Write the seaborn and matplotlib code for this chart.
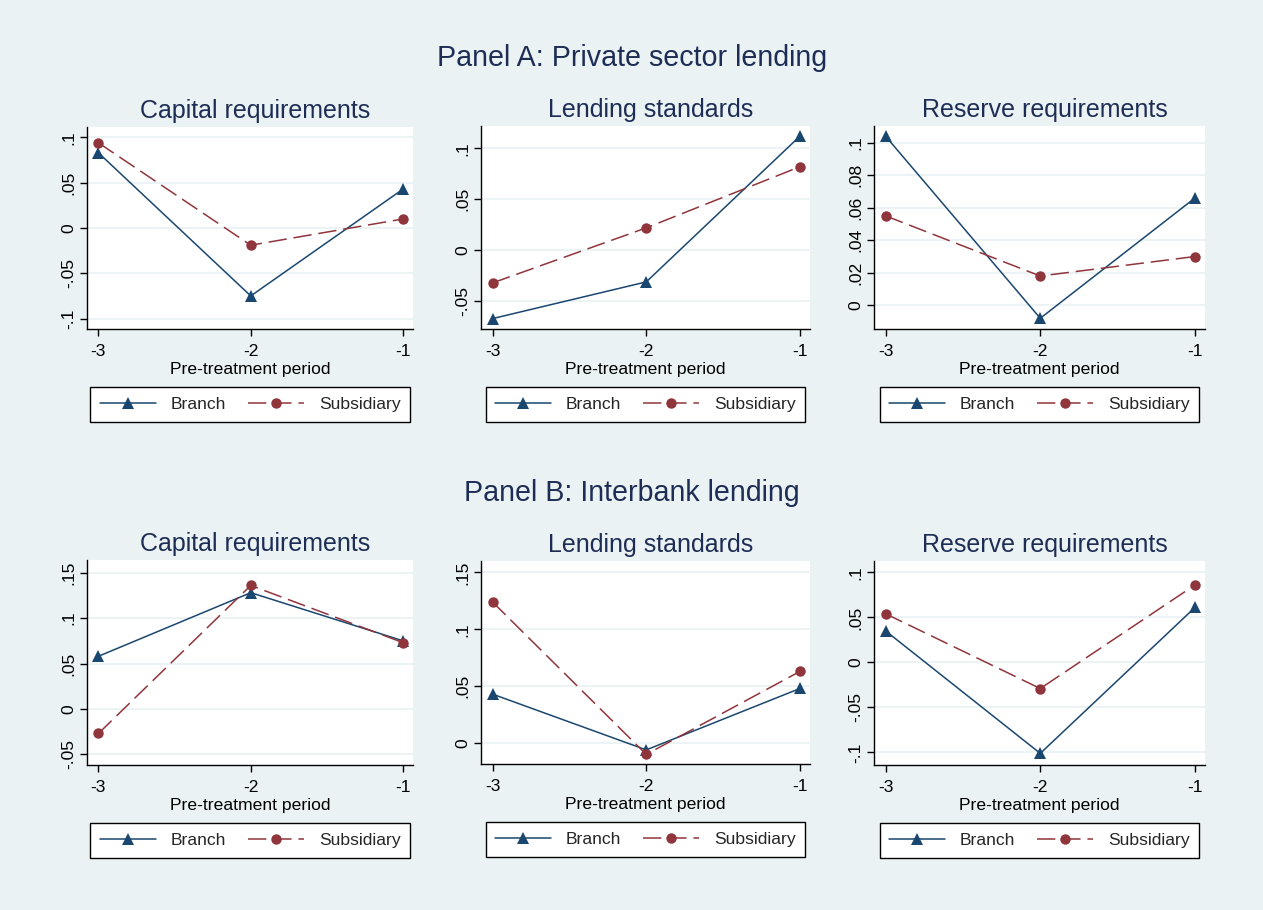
import matplotlib
matplotlib.use("Agg")
import matplotlib.pyplot as plt
import seaborn as sns
import pandas as pd

# Pre-treatment periods on the x axis
periods = [-3, -2, -1]
period_labels = ["-3", "-2", "-1"]
groups = ["Branch", "Subsidiary"]

# Panel A: private sector lending
a_capital_branch = [0.083, -0.075, 0.043]
a_capital_subsidiary = [0.094, -0.019, 0.010]
a_lending_branch = [-0.067, -0.031, 0.112]
a_lending_subsidiary = [-0.032, 0.022, 0.082]
a_reserve_branch = [0.104, -0.008, 0.066]
a_reserve_subsidiary = [0.055, 0.018, 0.030]

# Panel B: interbank lending
b_capital_branch = [0.058, 0.128, 0.075]
b_capital_subsidiary = [-0.027, 0.136, 0.073]
b_lending_branch = [0.043, -0.006, 0.048]
b_lending_subsidiary = [0.124, -0.010, 0.063]
b_reserve_branch = [0.035, -0.101, 0.061]
b_reserve_subsidiary = [0.054, -0.029, 0.086]

subplot_titles = ["Capital requirements", "Lending standards", "Reserve requirements"]
panel_titles = ["Panel A: Private sector lending", "Panel B: Interbank lending"]
x_title = "Pre-treatment period"

# y-axis ticks and labels for each subplot
a_capital_ticks = [-0.1, -0.05, 0, 0.05, 0.1]
a_capital_ticklabels = ["-.1", "-.05", "0", ".05", ".1"]
a_lending_ticks = [-0.05, 0, 0.05, 0.1]
a_lending_ticklabels = ["-.05", "0", ".05", ".1"]
a_reserve_ticks = [0, 0.02, 0.04, 0.06, 0.08, 0.1]
a_reserve_ticklabels = ["0", ".02", ".04", ".06", ".08", ".1"]
b_capital_ticks = [-0.05, 0, 0.05, 0.1, 0.15]
b_capital_ticklabels = ["-.05", "0", ".05", ".1", ".15"]
b_lending_ticks = [0, 0.05, 0.1, 0.15]
b_lending_ticklabels = ["0", ".05", ".1", ".15"]
b_reserve_ticks = [-0.1, -0.05, 0, 0.05, 0.1]
b_reserve_ticklabels = ["-.1", "-.05", "0", ".05", ".1"]

BG = "#EAF2F3"
NAVY = "#1A476F"
MAROON = "#90353B"
TITLE_COLOR = "#1E2D55"

sns.set_theme(style="white")
plt.rcParams["font.family"] = ["Liberation Sans", "DejaVu Sans"]

W, H = 1263, 910
fig = plt.figure(figsize=(W / 100, H / 100), dpi=100, facecolor=BG)


def frac_box(left, top, right, bottom):
    return [left / W, 1 - bottom / H, (right - left) / W, (bottom - top) / H]


panels = [
    # (branch, subsidiary, ticks, ticklabels, ylim, box)
    (a_capital_branch, a_capital_subsidiary, a_capital_ticks, a_capital_ticklabels,
     (-0.1115, 0.1115), (87, 127, 413, 329)),
    (a_lending_branch, a_lending_subsidiary, a_lending_ticks, a_lending_ticklabels,
     (-0.0772, 0.1219), (481, 126, 810, 329)),
    (a_reserve_branch, a_reserve_subsidiary, a_reserve_ticks, a_reserve_ticklabels,
     (-0.0146, 0.1103), (874, 126, 1205, 329)),
    (b_capital_branch, b_capital_subsidiary, b_capital_ticks, b_capital_ticklabels,
     (-0.0617, 0.164), (87, 560, 413, 765)),
    (b_lending_branch, b_lending_subsidiary, b_lending_ticks, b_lending_ticklabels,
     (-0.0184, 0.160), (481, 561, 810, 764)),
    (b_reserve_branch, b_reserve_subsidiary, b_reserve_ticks, b_reserve_ticklabels,
     (-0.1139, 0.1126), (874, 561, 1205, 765)),
]

for i, (br, sub, ticks, tlabels, ylim, box) in enumerate(panels):
    ax = fig.add_axes(frac_box(*box))
    ax.set_facecolor("white")
    df = pd.DataFrame({
        "period": periods * 2,
        "value": br + sub,
        "group": [groups[0]] * 3 + [groups[1]] * 3,
    })
    for y in ticks:
        ax.axhline(y, color=BG, lw=1.3, zorder=0)
    sns.lineplot(
        data=df, x="period", y="value", hue="group", style="group",
        palette=[NAVY, MAROON], markers={"Branch": "^", "Subsidiary": "o"},
        dashes={"Branch": "", "Subsidiary": (12, 4.5)},
        markersize=8, markeredgewidth=0, linewidth=1.1, ax=ax, legend=True,
    )
    for line in ax.get_lines():
        if line.get_marker() == "o":
            line.set_markersize(7.5)
    ax.set_xlim(-3.075, -0.935)
    ax.set_ylim(*ylim)
    ax.set_xticks(periods)
    ax.set_xticklabels(period_labels)
    ax.set_yticks(ticks)
    ax.set_yticklabels(tlabels, rotation=90, va="center")
    ax.tick_params(axis="both", which="major", length=5, width=1, color="black",
                   labelsize=12.6, labelcolor="black", direction="out",
                   bottom=True, left=True)
    ax.tick_params(axis="x", pad=5.5)
    ax.tick_params(axis="y", pad=3)
    for side in ["top", "right"]:
        ax.spines[side].set_visible(False)
    for side in ["left", "bottom"]:
        ax.spines[side].set_color("black")
        ax.spines[side].set_linewidth(1.0)
    ax.set_xlabel(x_title, fontsize=12.6, color="black", labelpad=2.5)
    ax.set_ylabel("")
    left, top, right, bottom = box
    title = ax.set_title(subplot_titles[i % 3], fontsize=18, color=TITLE_COLOR, pad=6.5)
    title.set_x(0.5 + 5 / (right - left))

    handles, labels = ax.get_legend_handles_labels()
    ax.get_legend().remove()
    cx = (left + right) / 2 / W
    cy = 1 - (bottom + 75.5) / H
    leg = ax.legend(handles, labels, loc="center", bbox_to_anchor=(cx, cy),
                    bbox_transform=fig.transFigure, ncol=2, frameon=True,
                    fancybox=False, shadow=False, fontsize=12.6,
                    handlelength=3.2, handletextpad=0.85, columnspacing=1.25,
                    borderpad=0.55, borderaxespad=0)
    leg.get_frame().set_edgecolor("black")
    leg.get_frame().set_linewidth(1.0)
    leg.get_frame().set_facecolor("white")
    leg.get_frame().set_alpha(1)

fig.text(632 / W, 1 - 66 / H, panel_titles[0], ha="center", va="baseline",
         fontsize=20.6, color=TITLE_COLOR)
fig.text(632 / W, 1 - 501 / H, panel_titles[1], ha="center", va="baseline",
         fontsize=20.6, color=TITLE_COLOR)

fig.savefig("out.png", dpi=100, facecolor=BG)
